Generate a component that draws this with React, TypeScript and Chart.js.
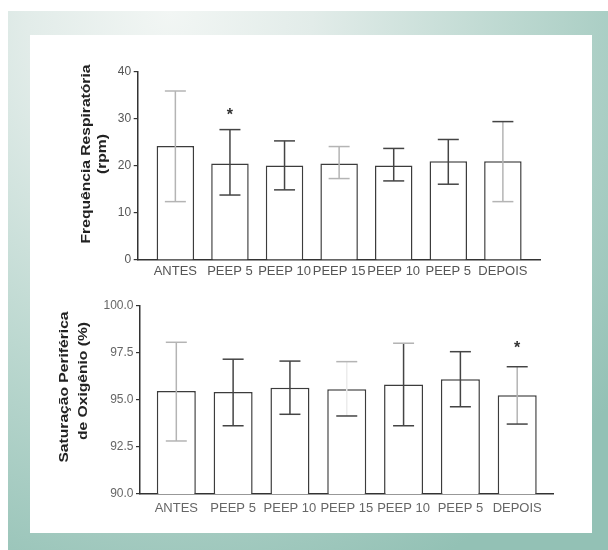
import React, { useEffect, useRef } from "react";
import { Chart, registerables } from "chart.js";
Chart.register(...registerables);

// ---- data ----
const categories = ["ANTES", "PEEP 5", "PEEP 10", "PEEP 15", "PEEP 10", "PEEP 5", "DEPOIS"];

const freqMean = [24.2, 20.5, 20.1, 20.5, 20.1, 21.0, 21.0];
const freqHigh = [35.9, 27.7, 25.3, 24.1, 23.7, 25.6, 29.4];
const freqLow = [12.4, 13.8, 14.9, 17.3, 16.8, 16.1, 12.4];
const freqMarks = ["", "*", "", "", "", "", ""];
const freqTicks = [0, 10, 20, 30, 40];

const satMean = [95.48, 95.43, 95.65, 95.57, 95.83, 96.1, 95.25];
const satHigh = [98.07, 97.17, 97.07, 97.04, 98.02, 97.57, 96.77];
const satLow = [92.82, 93.63, 94.24, 94.15, 93.63, 94.64, 93.72];
const satMarks = ["", "", "", "", "", "", "*"];
const satTicks = [90, 92.5, 95, 97.5, 100];

// ---- styles ----
const L = "#b4b4b4";
const D = "#444444";
const VL = "#ececec";
const freqErrStyle = {
  stem: [L, D, D, L, D, D, L],
  hi: [L, D, D, L, D, D, D],
  lo: [L, D, D, L, D, D, L],
};
const satErrStyle = {
  stem: [L, D, D, VL, D, D, L],
  hi: [L, D, D, L, L, D, D],
  lo: [L, D, D, D, D, D, D],
};

const FONT = '"Liberation Sans", Arial, Helvetica, sans-serif';

type Spec = {
  mean: number[];
  high: number[];
  low: number[];
  marks: string[];
  ticks: number[];
  decimals: number;
  errStyle: { stem: string[]; hi: string[]; lo: string[] };
  title: string[];
  titleX: number[];
  titleY: number[];
  xMin: number;
  xMax: number;
  padding: { top: number; right: number; left: number; bottom: number };
  yWidth: number;
  xHeight: number;
  xTickPad: number;
  markOffset: number;
  tickColor: string;
};

function makeChart(canvas: HTMLCanvasElement, spec: Spec) {
  const extras = {
    id: "extras",
    afterDatasetsDraw(chart: any) {
      const { ctx } = chart;
      const x = chart.scales.x;
      const y = chart.scales.y;
      ctx.save();
      ctx.lineWidth = 1.5;
      spec.mean.forEach((_, i) => {
        const px = x.getPixelForValue(i);
        const hi = y.getPixelForValue(spec.high[i]);
        const lo = y.getPixelForValue(spec.low[i]);
        const hw = 10.5;
        ctx.strokeStyle = spec.errStyle.stem[i];
        ctx.beginPath();
        ctx.moveTo(px, hi);
        ctx.lineTo(px, lo);
        ctx.stroke();
        ctx.strokeStyle = spec.errStyle.hi[i];
        ctx.beginPath();
        ctx.moveTo(px - hw, hi);
        ctx.lineTo(px + hw, hi);
        ctx.stroke();
        ctx.strokeStyle = spec.errStyle.lo[i];
        ctx.beginPath();
        ctx.moveTo(px - hw, lo);
        ctx.lineTo(px + hw, lo);
        ctx.stroke();
        if (spec.marks[i]) {
          ctx.fillStyle = "#333";
          ctx.font = `bold 16px ${FONT}`;
          ctx.textAlign = "center";
          ctx.textBaseline = "middle";
          ctx.fillText(spec.marks[i], px, hi - spec.markOffset + 4);
        }
      });
      ctx.restore();
    },
    afterDraw(chart: any) {
      const { ctx } = chart;
      ctx.save();
      ctx.font = `bold 12.5px ${FONT}`;
      ctx.fillStyle = "#222";
      ctx.textAlign = "center";
      ctx.textBaseline = "middle";
      spec.title.forEach((line, k) => {
        ctx.save();
        ctx.translate(spec.titleX[k], spec.titleY[k]);
        ctx.rotate(-Math.PI / 2);
        ctx.scale(1.25, 1);
        ctx.fillText(line, 0, 0);
        ctx.restore();
      });
      ctx.restore();
    },
  };

  return new Chart(canvas, {
    type: "bar",
    data: {
      datasets: [
        {
          data: spec.mean.map((v, i) => ({ x: i, y: v })),
          backgroundColor: "#ffffff",
          borderColor: "#3c3c3c",
          borderWidth: 1.5,
          categoryPercentage: 0.763,
          barPercentage: 0.9,
        },
      ],
    },
    options: {
      responsive: false,
      animation: false,
      devicePixelRatio: 1,
      layout: { padding: spec.padding },
      plugins: { legend: { display: false }, tooltip: { enabled: false }, title: { display: false } },
      scales: {
        x: {
          type: "linear",
          offset: false,
          min: spec.xMin,
          max: spec.xMax,
          afterBuildTicks: (s: any) => {
            s.ticks = categories.map((_, i) => ({ value: i }));
          },
          afterFit: (s: any) => {
            s.height = spec.xHeight;
          },
          grid: { display: true, offset: false, drawOnChartArea: false, drawTicks: false },
          border: { display: true, color: "#333", width: 1.5 },
          ticks: {
            autoSkip: false,
            maxRotation: 0,
            minRotation: 0,
            padding: spec.xTickPad,
            color: spec.tickColor,
            font: { family: FONT, size: 13 },
            callback: (v: any) => categories[Math.round(Number(v))] ?? "",
          },
        },
        y: {
          type: "linear",
          min: spec.ticks[0],
          max: spec.ticks[spec.ticks.length - 1],
          afterBuildTicks: (s: any) => {
            s.ticks = spec.ticks.map((v) => ({ value: v }));
          },
          afterFit: (s: any) => {
            s.width = spec.yWidth;
          },
          grid: { display: true, drawOnChartArea: false, drawTicks: true, tickLength: 4, color: "#333", lineWidth: 1.2 },
          border: { display: true, color: "#333", width: 1.5 },
          ticks: {
            padding: 2.5,
            color: spec.tickColor,
            font: { family: FONT, size: 12 },
            callback: (v: any) => Number(v).toFixed(spec.decimals),
          },
        },
      },
    },
    plugins: [extras],
  } as any);
}

function Panel(props: { spec: Spec; left: number; top: number; width: number; height: number }) {
  const ref = useRef<HTMLCanvasElement>(null);
  useEffect(() => {
    const c = makeChart(ref.current!, props.spec);
    return () => c.destroy();
  }, []);
  return (
    <canvas
      ref={ref}
      width={props.width}
      height={props.height}
      style={{ position: "absolute", left: props.left, top: props.top, width: props.width, height: props.height }}
    />
  );
}

const topSpec: Spec = {
  mean: freqMean,
  high: freqHigh,
  low: freqLow,
  marks: freqMarks,
  ticks: freqTicks,
  decimals: 0,
  errStyle: freqErrStyle,
  title: ["Frequência Respiratória", "(rpm)"],
  titleX: [56.7, 73],
  titleY: [119, 119],
  xMin: -0.69,
  xMax: 6.68,
  padding: { top: 36.7, right: 52, left: 0, bottom: 0 },
  yWidth: 107.7,
  xHeight: 25,
  xTickPad: 4,
  markOffset: 17.6,
  tickColor: "#555",
};

const bottomSpec: Spec = {
  mean: satMean,
  high: satHigh,
  low: satLow,
  marks: satMarks,
  ticks: satTicks,
  decimals: 1,
  errStyle: satErrStyle,
  title: ["Saturação Periférica", "de Oxigênio (%)"],
  titleX: [35, 53.3],
  titleY: [97, 91],
  xMin: -0.639,
  xMax: 6.63,
  padding: { top: 16, right: 39, left: 0, bottom: 0 },
  yWidth: 110,
  xHeight: 36,
  xTickPad: 6.2,
  markOffset: 21.7,
  tickColor: "#666",
};

export default function App() {
  return (
    <div style={{ position: "absolute", left: 0, top: 0, width: 608, height: 550, background: "#fff", overflow: "hidden" }}>
      <div
        style={{
          position: "absolute",
          left: 8,
          top: 11,
          width: 600,
          height: 539,
          background:
            "radial-gradient(ellipse 95% 115% at 27% 0%, #f2f6f4 0%, #e2ece9 25%, #bcd8d0 60%, #93c1b5 100%)",
        }}
      />
      <div style={{ position: "absolute", left: 30, top: 35, width: 562, height: 498, background: "#fff" }} />
      <Panel spec={topSpec} left={30} top={35} width={562} height={250} />
      <Panel spec={bottomSpec} left={30} top={290} width={562} height={240} />
    </div>
  );
}
